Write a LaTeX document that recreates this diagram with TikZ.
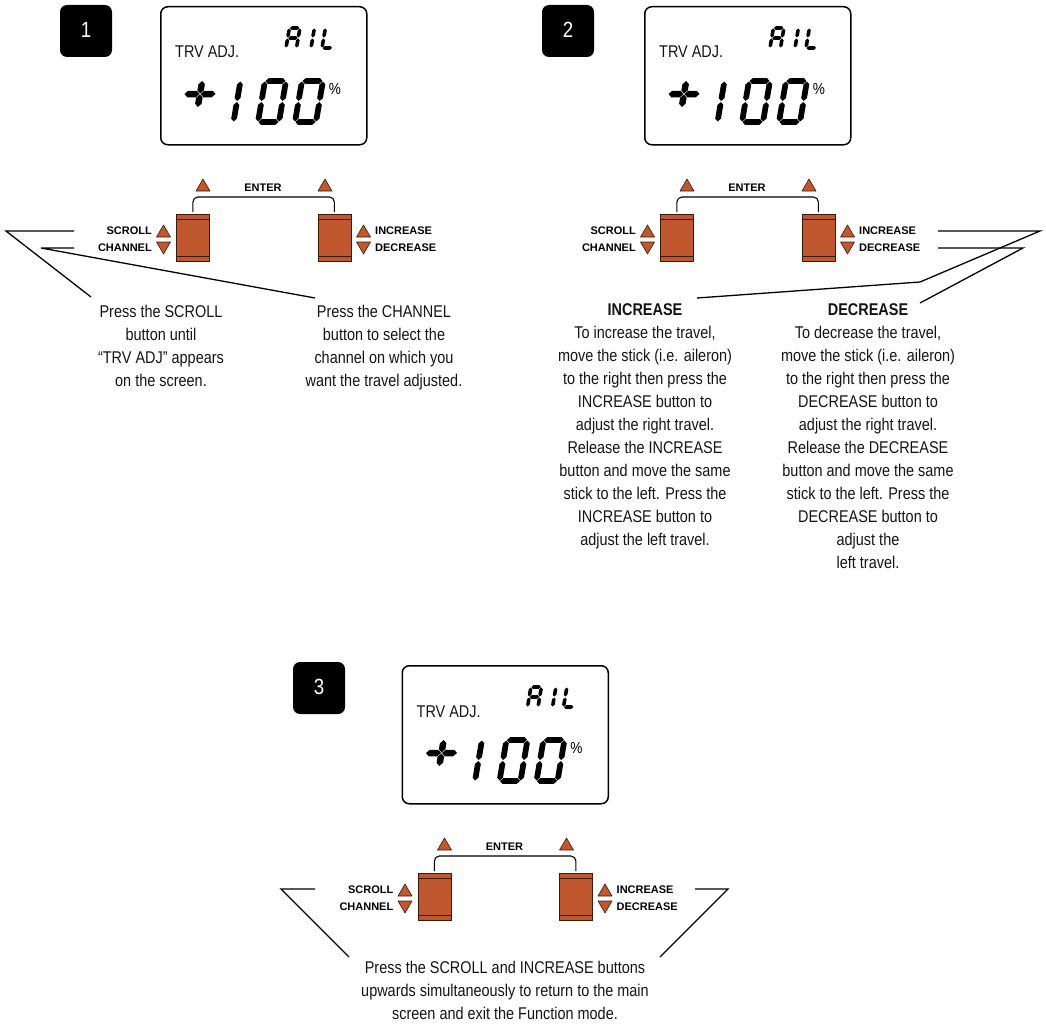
\documentclass[tikz,border=0pt]{standalone}
\usepackage{fontspec}
\setmainfont{Liberation Sans}[FakeStretch=0.85]
\newfontfamily\lblfont{Liberation Sans}
\definecolor{btn}{HTML}{C0582F}
\definecolor{btnedge}{HTML}{3B1A0C}

\newcommand\SgT{5}
\newcommand\SgG{0.5}
% horizontal segment: x1, x2, y (centre line)
\newcommand\SegH[3]{\fill (#1+\SgG,#3) -- (#1+\SgG+\SgT/2,#3+\SgT/2) -- (#2-\SgG-\SgT/2,#3+\SgT/2) -- (#2-\SgG,#3) -- (#2-\SgG-\SgT/2,#3-\SgT/2) -- (#1+\SgG+\SgT/2,#3-\SgT/2) -- cycle;}
% vertical segment: x, y1, y2
\newcommand\SegV[3]{\fill (#1,#2+\SgG) -- (#1+\SgT/2,#2+\SgG+\SgT/2) -- (#1+\SgT/2,#3-\SgG-\SgT/2) -- (#1,#3-\SgG) -- (#1-\SgT/2,#3-\SgG-\SgT/2) -- (#1-\SgT/2,#2+\SgG+\SgT/2) -- cycle;}
\newcommand\dsega{\SegH{0}{\DgW}{\DgH}}
\newcommand\dsegb{\SegV{\DgW}{\DgH/2}{\DgH}}
\newcommand\dsegc{\SegV{\DgW}{0}{\DgH/2}}
\newcommand\dsegd{\SegH{0}{\DgW}{0}}
\newcommand\dsege{\SegV{0}{0}{\DgH/2}}
\newcommand\dsegf{\SegV{0}{\DgH/2}{\DgH}}
\newcommand\dsegg{\SegH{0}{\DgW}{\DgH/2}}
% x0, y0, w, h, thickness, segments
\newcommand\SevenSeg[6]{%
 \begin{scope}[shift={(#1,#2)}, y=1pt, xslant=0.17]
 \def\DgW{#3}\def\DgH{#4}\def\SgT{#5}
 \foreach \s in {#6}{\csname dseg\s\endcsname}
 \end{scope}}
\newcommand\PlusSign[2]{%
 \begin{scope}[shift={(#1,#2)}, y=1pt, xslant=0.17]
 \def\SgT{6.5}
 \SegH{-16}{0}{0}\SegH{0}{16}{0}\SegV{0}{-13.5}{0}\SegV{0}{0}{13.5}
 \end{scope}}

\tikzset{
 body/.style={font=\fontsize{17}{23}\selectfont, align=center, inner sep=0pt, text=black!92},
 lbl/.style={font=\lblfont\bfseries\fontsize{11}{13}\selectfont, inner sep=0pt},
 pct/.style={font=\fontsize{16}{16}\selectfont, inner sep=0pt},
 lcd/.style={draw, line width=1.5pt, rounded corners=7pt},
 numbox/.style={fill=black, rounded corners=7pt, minimum width=52pt, minimum height=52pt, inner sep=0pt, text=white, font=\fontsize{22}{22}\selectfont},
 btnbody/.style={fill=btn, draw=btnedge, line width=0.8pt, inner sep=0pt},
 tri/.style={fill=btn, draw=btnedge, line width=0.6pt, line join=round},
 bracket/.style={line width=1.1pt, rounded corners=5pt},
 lead/.style={line width=1.3pt},
}

\newcommand\Panel[3]{% prefix, dx, dy
\begin{scope}[shift={(#2,#3)}]
 \node[lcd, anchor=north west, minimum width=206pt, minimum height=138pt] (#1lcd) at (160,6) {};
 \node[body, anchor=base west] (#1trv) at (175,58) {TRV ADJ.};
 \SevenSeg{286}{48}{10.5}{20}{3.6}{a,b,c,e,f,g}
 \SevenSeg{311}{48}{10.5}{20}{3.6}{e,f}
 \SevenSeg{322}{48}{10.5}{20}{3.6}{d,e,f}
 \PlusSign{200}{94}
 \SevenSeg{233.5}{122}{20}{41}{5.8}{e,f}
 \SevenSeg{258}{122}{21}{41}{5.8}{a,b,c,d,e,f}
 \SevenSeg{295}{122}{21}{41}{5.8}{a,b,c,d,e,f}
 \node[pct] (#1pct) at (335,89) {\%};
 % buttons
 \node[btnbody, anchor=north west, minimum width=33pt, minimum height=47pt] (#1bl) at (176,214) {};
 \node[btnbody, anchor=north west, minimum width=33pt, minimum height=47pt] (#1br) at (317.5,214) {};
 \draw[btnedge, line width=0.8pt]
   ([yshift=-5pt]#1bl.north west) -- ([yshift=-5pt]#1bl.north east)
   ([yshift=5pt]#1bl.south west) -- ([yshift=5pt]#1bl.south east)
   ([yshift=-5pt]#1br.north west) -- ([yshift=-5pt]#1br.north east)
   ([yshift=5pt]#1br.south west) -- ([yshift=5pt]#1br.south east);
 \draw[bracket] ([yshift=2pt]#1bl.north) -- ([yshift=17pt]#1bl.north) -- ([yshift=17pt]#1br.north) -- ([yshift=2pt]#1br.north);
 \node[lbl] (#1enter) at (263,188) {ENTER};
 \draw[tri] (196,191) -- (203,179) -- (210,191) -- cycle;
 \draw[tri] (318,191) -- (325,179) -- (332,191) -- cycle;
 \node[lbl, anchor=east] (#1scroll) at (152,231) {SCROLL};
 \node[lbl, anchor=east] (#1channel) at (152,248) {CHANNEL};
 \draw[tri] (156.5,237) -- (163.5,225) -- (170.5,237) -- cycle;
 \draw[tri] (156.5,242) -- (170.5,242) -- (163.5,254) -- cycle;
 \draw[tri] (356.5,237) -- (363.5,225) -- (370.5,237) -- cycle;
 \draw[tri] (356.5,242) -- (370.5,242) -- (363.5,254) -- cycle;
 \node[lbl, anchor=west] (#1inc) at (375,231) {INCREASE};
 \node[lbl, anchor=west] (#1dec) at (375,248) {DECREASE};
\end{scope}}

\begin{document}
\begin{tikzpicture}[x=1pt, y=-1pt]
\useasboundingbox (0,0) rectangle (1046,1025);

% step numbers
\node[numbox] (n1) at (86,31) {\raisebox{3pt}{1}};
\node[numbox] (n2) at (568,31) {\raisebox{3pt}{2}};
\node[numbox] (n3) at (319,688) {\raisebox{3pt}{3}};

\Panel{a}{0}{0}
\Panel{b}{484}{0}
\Panel{c}{241.5}{659}

% panel 1 texts
\node[body, anchor=north] (t1a) at (161,305) {Press the SCROLL\\button until\\“TRV ADJ” appears\\on the screen.};
\node[body, anchor=north] (t1b) at (384,305) {Press the CHANNEL\\button to select the\\channel on which you\\want the travel adjusted.};

% panel 2 texts
\node[body, anchor=north] (t2a) at (645,303) {\textbf{INCREASE}\\To increase the travel,\\move the stick (i.e. aileron)\\to the right then press the\\INCREASE button to\\adjust the right travel.\\Release the INCREASE\\button and move the same\\stick to the left. Press the\\INCREASE button to\\adjust the left travel.};
\node[body, anchor=north] (t2b) at (868,303) {\textbf{DECREASE}\\To decrease the travel,\\move the stick (i.e. aileron)\\to the right then press the\\DECREASE button to\\adjust the right travel.\\Release the DECREASE\\button and move the same\\stick to the left. Press the\\DECREASE button to\\adjust the\\left travel.};

% panel 3 text
\node[body, anchor=north] (t3) at (505,961) {Press the SCROLL and INCREASE buttons\\upwards simultaneously to return to the main\\screen and exit the Function mode.};

% leader lines panel 1
\coordinate (l1a) at (74,231); \coordinate (l1b) at (6,231); \coordinate (l1c) at (91,297);
\coordinate (l1d) at (74,248); \coordinate (l1e) at (41,248); \coordinate (l1f) at (315,298);
\draw[lead] (l1a) -- (l1b) -- (l1c);
\draw[lead] (l1d) -- (l1e) -- (l1f);

% leader lines panel 2
\coordinate (l2a) at (938,231); \coordinate (l2b) at (1040,231); \coordinate (l2c) at (920,282); \coordinate (l2d) at (697,298);
\coordinate (l2e) at (938,248); \coordinate (l2f) at (1023,248); \coordinate (l2g) at (920,303);
\draw[lead] (l2a) -- (l2b) -- (l2c) -- (l2d);
\draw[lead] (l2e) -- (l2f) -- (l2g);

% leader lines panel 3
\coordinate (l3a) at (315,889); \coordinate (l3b) at (281,889); \coordinate (l3c) at (349,957);
\coordinate (l3d) at (695,889); \coordinate (l3e) at (728,889); \coordinate (l3f) at (660,957);
\draw[lead] (l3a) -- (l3b) -- (l3c);
\draw[lead] (l3d) -- (l3e) -- (l3f);
\end{tikzpicture}
\end{document}
